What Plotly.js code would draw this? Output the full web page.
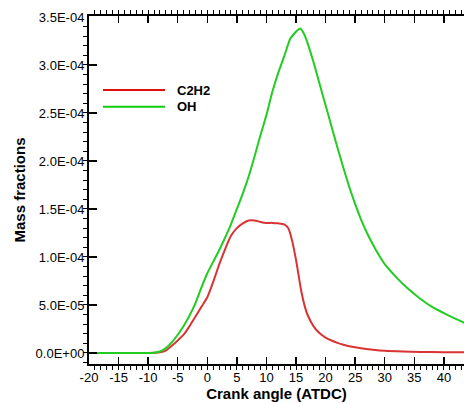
<!DOCTYPE html>
<html>
<head>
<meta charset="utf-8">
<script src="https://cdn.plot.ly/plotly-3.0.1.min.js"></script>
<style>html,body{margin:0;padding:0;background:#fff;}#chart{width:464px;height:403px;}</style>
</head>
<body>
<div id="chart"></div>
<script>
// Series names
var seriesNames = ["C2H2", "OH"];

// C2H2 (red)
var c2h2X = [-20, -10, -9, -8, -7, -6, -5, -4, -3, -2, -1, 0, 1, 2, 3, 4, 5, 6, 7, 8, 9, 10, 11, 12, 13, 13.7, 14.3, 15, 15.9, 16.5, 17, 18, 19, 20, 21, 22, 23, 24, 26, 28, 30, 33, 36, 40, 44];
var c2h2Y = [0, 0, 0.1e-6, 0.6e-6, 2.5e-6, 7.5e-6, 1.3e-5, 1.9e-5, 2.8e-5, 3.8e-5, 4.8e-5, 5.8e-5, 7.4e-5, 9.2e-5, 1.08e-4, 1.22e-4, 1.3e-4, 1.35e-4, 1.38e-4, 1.38e-4, 1.365e-4, 1.355e-4, 1.355e-4, 1.35e-4, 1.34e-4, 1.3e-4, 1.18e-4, 9.7e-5, 6.4e-5, 4.8e-5, 3.9e-5, 2.75e-5, 2.05e-5, 1.6e-5, 1.3e-5, 1.05e-5, 8.5e-6, 7e-6, 4.8e-6, 3.3e-6, 2.2e-6, 1.4e-6, 1.0e-6, 0.8e-6, 0.7e-6];

// OH (green)
var ohX = [-20, -10, -9, -8, -7, -6, -5, -4, -3, -2, -1, 0, 1, 2, 3, 4, 5, 6, 7, 8, 9, 10, 11, 12, 13, 14, 14.6, 15.2, 15.7, 16.3, 17, 18, 19, 20, 21, 22, 23, 24, 25, 26, 27, 28, 29, 30, 32, 34, 36, 38, 40, 42, 44];
var ohY = [0, 0, 0.3e-6, 1.5e-6, 5e-6, 1.1e-5, 1.9e-5, 2.8e-5, 3.9e-5, 5.2e-5, 6.8e-5, 8.3e-5, 9.5e-5, 1.07e-4, 1.2e-4, 1.34e-4, 1.5e-4, 1.66e-4, 1.84e-4, 2.05e-4, 2.27e-4, 2.48e-4, 2.72e-4, 2.92e-4, 3.09e-4, 3.27e-4, 3.32e-4, 3.36e-4, 3.38e-4, 3.33e-4, 3.22e-4, 3.02e-4, 2.8e-4, 2.58e-4, 2.36e-4, 2.14e-4, 1.93e-4, 1.73e-4, 1.55e-4, 1.39e-4, 1.25e-4, 1.13e-4, 1.02e-4, 9.25e-5, 7.85e-5, 6.65e-5, 5.65e-5, 4.8e-5, 4.15e-5, 3.55e-5, 3.0e-5];

// Tick labels
var xTickVals = [-20, -15, -10, -5, 0, 5, 10, 15, 20, 25, 30, 35, 40];
var xTickText = ["-20", "-15", "-10", "-5", "0", "5", "10", "15", "20", "25", "30", "35", "40"];
var yTickVals = [0, 5e-5, 1e-4, 1.5e-4, 2e-4, 2.5e-4, 3e-4, 3.5e-4];
var yTickText = ["0.0E+00", "5.0E-05", "1.0E-04", "1.5E-04", "2.0E-04", "2.5E-04", "3.0E-04", "3.5E-04"];

var colors = ["#d93333", "#22cc22"];

var traces = [
  {x: c2h2X, y: c2h2Y, name: seriesNames[0], mode: "lines", line: {color: colors[0], width: 2, shape: "spline", smoothing: 0.5}},
  {x: ohX, y: ohY, name: seriesNames[1], mode: "lines", line: {color: colors[1], width: 2, shape: "spline", smoothing: 0.5}}
];

var font = "Liberation Sans, Arial, sans-serif";

var layout = {
  width: 464, height: 403,
  margin: {l: 89, r: 0, t: 16, b: 39, pad: 0},
  paper_bgcolor: "#fff", plot_bgcolor: "#fff",
  showlegend: false,
  font: {family: font, size: 13, color: "#000"},
  xaxis: {
    range: [-20, 43.4],
    tickmode: "array", tickvals: xTickVals, ticktext: xTickText,
    ticks: "inside", ticklen: 7, tickwidth: 1.5, tickcolor: "#000",
    showline: true, linecolor: "#000", linewidth: 2, mirror: "ticks",
    showgrid: false, zeroline: false,
    minor: {tickmode: "linear", tick0: -20, dtick: 1, ticklen: 4, tickwidth: 1, tickcolor: "#000", showgrid: false},
    tickfont: {family: font, size: 13, color: "#000"},
    title: {text: "<b>Crank angle (ATDC)</b>", font: {family: font, size: 15, color: "#000"}, standoff: 0}
  },
  yaxis: {
    range: [-1.15e-5, 3.51e-4],
    tickmode: "array", tickvals: yTickVals, ticktext: yTickText,
    ticks: "inside", ticklen: 8, tickwidth: 1.5, tickcolor: "#000",
    showline: true, linecolor: "#000", linewidth: 2,
    showgrid: false, zeroline: false,
    minor: {tickmode: "linear", tick0: 0, dtick: 1e-5, ticklen: 4, tickwidth: 1, tickcolor: "#000", showgrid: false},
    tickfont: {family: font, size: 13, color: "#000"},
    title: {text: "<b>Mass fractions</b>", font: {family: font, size: 15, color: "#000"}, standoff: 6}
  },
  shapes: [
    {type: "line", xref: "paper", yref: "paper", x0: 0.0373, x1: 0.2027, y0: 0.787, y1: 0.787, line: {color: "#e01010", width: 2}},
    {type: "line", xref: "paper", yref: "paper", x0: 0.0373, x1: 0.2027, y0: 0.739, y1: 0.739, line: {color: "#10cc10", width: 2}}
  ],
  annotations: [
    {xref: "paper", yref: "paper", x: 0.229, y: 0.787, xanchor: "left", yanchor: "middle", showarrow: false, text: "<b>" + seriesNames[0] + "</b>", font: {family: font, size: 13, color: "#000"}},
    {xref: "paper", yref: "paper", x: 0.229, y: 0.739, xanchor: "left", yanchor: "middle", showarrow: false, text: "<b>" + seriesNames[1] + "</b>", font: {family: font, size: 13, color: "#000"}}
  ]
};

Plotly.newPlot("chart", traces, layout, {staticPlot: true, displayModeBar: false});
</script>
</body>
</html>
